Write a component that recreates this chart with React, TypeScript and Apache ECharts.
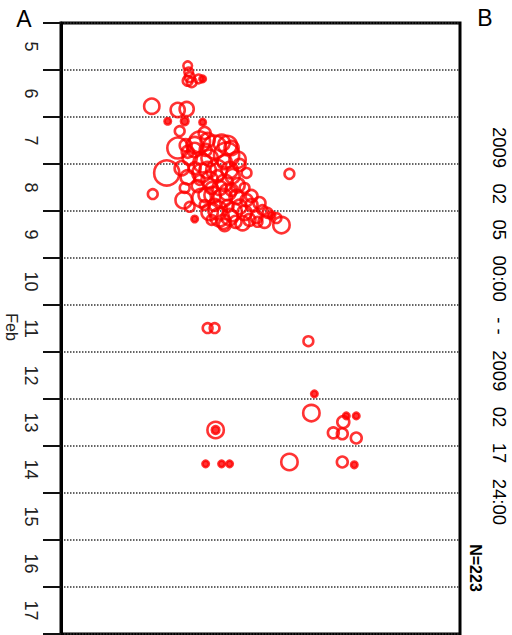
import React, { useEffect, useRef } from "react";
import * as echarts from "echarts";

// Horizontal position (arbitrary units, 0..400 across the frame)
const posX = [
  127, 128, 129, 127, 131, 138, 142, 91, 117, 126, 124, 107, 142, 119,
  117, 139, 154, 166, 129, 142, 106, 127, 141, 156, 169, 186, 229, 92,
  123, 129, 141, 152, 162, 176, 186, 134, 149, 159, 169, 182, 196, 202,
  216, 221, 147, 161, 134, 149, 164, 134, 149, 164, 177, 137, 151, 171,
  184, 191, 179, 167, 154, 144, 207, 189, 175, 163, 151, 197, 211, 172,
  139, 124, 179, 157, 145, 125,
  134, 171, 177, 121, 167, 157, 145, 184, 172, 191, 199, 147, 159, 127,
  144, 167, 204, 164,
  147, 154, 248, 254, 251, 155, 155, 286, 296, 283, 273, 282, 296, 145,
  161, 169, 229, 282, 294,
];
// Time in days of February 2009
const posDay = [
  5.91, 6.04, 6.15, 6.23, 6.26, 6.19, 6.19, 6.77, 6.85, 6.83, 7.09, 7.09, 7.11, 7.3,
  7.66, 7.53, 7.64, 7.81, 7.87, 7.98, 8.19, 8.28, 8.19, 8.13, 8.13, 8.19, 8.21, 8.64,
  8.77, 8.91, 8.72, 8.66, 8.72, 8.7, 8.77, 9.17, 9.02, 9.13, 9.13, 9.26, 9.13, 8.98,
  9.15, 9.3, 7.49, 7.55, 7.7, 7.87, 7.96, 8.09, 8.34, 8.4, 8.45, 8.47, 8.51, 8.55,
  8.51, 8.87, 8.91, 8.89, 8.87, 8.87, 9.04, 9.19, 9.23, 9.23, 9.19, 9.23, 9.09, 8.26,
  8.34, 8.51, 8.02, 8.26, 7.7, 7.6,
  7.6, 7.66, 7.91, 8.09, 8.6, 8.98, 8.66, 9.04, 9.02, 8.68, 8.83, 8.13, 8.51, 7.74,
  7.34, 7.6, 9.23, 9.3,
  11.49, 11.49, 11.77, 12.89, 13.3, 13.66, 13.66, 13.36, 13.36, 13.49, 13.72, 13.74, 13.83, 14.38,
  14.38, 14.38, 14.34, 14.34, 14.4,
];
// Bubble size
const bubbleSize = [
  7, 7, 8, 8, 8, 7, 5, 13, 12, 12, 6, 5, 5, 8,
  18, 18, 20, 22, 12, 16, 22, 12, 16, 18, 14, 8, 8, 8,
  14, 8, 16, 14, 16, 12, 10, 5, 14, 16, 14, 12, 10, 8,
  8, 14, 12, 14, 12, 14, 12, 10, 14, 14, 12, 10, 10, 10,
  8, 10, 12, 10, 10, 8, 8, 10, 10, 12, 8, 8, 6, 12,
  8, 8, 10, 10, 10, 10,
  14, 12, 14, 12, 14, 16, 12, 12, 16, 10, 10, 14, 12, 10,
  10, 16, 10, 10,
  8, 8, 8, 5, 14, 14, 6, 5, 5, 10, 9, 9, 9, 5,
  5, 5, 14, 9, 5,
];
const dayTicks = [5, 6, 7, 8, 9, 10, 11, 12, 13, 14, 15, 16, 17];
const titleParts = ["2009", "02", "05", "00:00", "- -", "2009", "02", "17", "24:00"];
const countLabel = "N=223";
const monthLabel = "Feb";

export default function App() {
  const ref = useRef<HTMLDivElement>(null);
  useEffect(() => {
    if (!ref.current) return;
    const chart = echarts.init(ref.current, null, { renderer: "svg" });
    const data = posX.map((x, i) => [x, posDay[i], bubbleSize[i]]);
    const font = "Liberation Sans, Arial, sans-serif";
    const gap = "\u00a0\u00a0\u00a0";
    chart.setOption({
      animation: false,
      grid: {
        left: 61,
        right: 52,
        top: 23,
        bottom: 1,
        show: true,
        borderColor: "#000",
        borderWidth: 3,
        backgroundColor: "transparent",
      },
      xAxis: { type: "value", min: 0, max: 400, show: false },
      yAxis: {
        type: "value",
        min: 5,
        max: 18,
        interval: 1,
        inverse: true,
        axisLine: { show: true, lineStyle: { color: "#000", width: 3 } },
        axisTick: { show: true, length: 18, lineStyle: { color: "#111", width: 2 } },
        axisLabel: {
          customValues: dayTicks.map((d) => d + 0.5),
          formatter: (v: number) => String(Math.floor(v)),
          rotate: -90,
          margin: 21,
          fontSize: 18,
          color: "#222",
          fontFamily: font,
        },
        splitLine: { show: true, lineStyle: { type: [1.5, 1.5], color: "#333", width: 1.5 } },
      },
      series: [
        {
          type: "scatter",
          data,
          symbol: "circle",
          symbolSize: (v: number[]) => v[2] * 1.1 + 1,
          itemStyle: {
            color: (p: any) => (p.data[2] <= 6 ? "#ff0000" : "transparent"),
            borderColor: "#ff0000",
            borderWidth: 2.6,
          },
        },
      ],
      graphic: [
        { type: "text", x: 24, y: 19, style: { text: "A", fontSize: 23, fill: "#000", fontFamily: font, align: "center", verticalAlign: "middle" } },
        { type: "text", x: 485, y: 18, style: { text: "B", fontSize: 23, fill: "#000", fontFamily: font, align: "center", verticalAlign: "middle" } },
        { type: "text", x: 11, y: 327, rotation: -Math.PI / 2, style: { text: monthLabel, fontSize: 16, fill: "#222", fontFamily: font, align: "center", verticalAlign: "middle" } },
        { type: "text", x: 499, y: 326, rotation: -Math.PI / 2, style: { text: titleParts.join(gap), fontSize: 18.5, fill: "#000", fontFamily: font, align: "center", verticalAlign: "middle" } },
        { type: "text", x: 475, y: 568, rotation: -Math.PI / 2, style: { text: countLabel, fontSize: 16, fontWeight: "bold", fill: "#000", fontFamily: font, align: "center", verticalAlign: "middle" } },
      ],
    });
    return () => chart.dispose();
  }, []);
  return <div ref={ref} style={{ width: 512, height: 635, position: "absolute", left: 0, top: 0 }} />;
}
